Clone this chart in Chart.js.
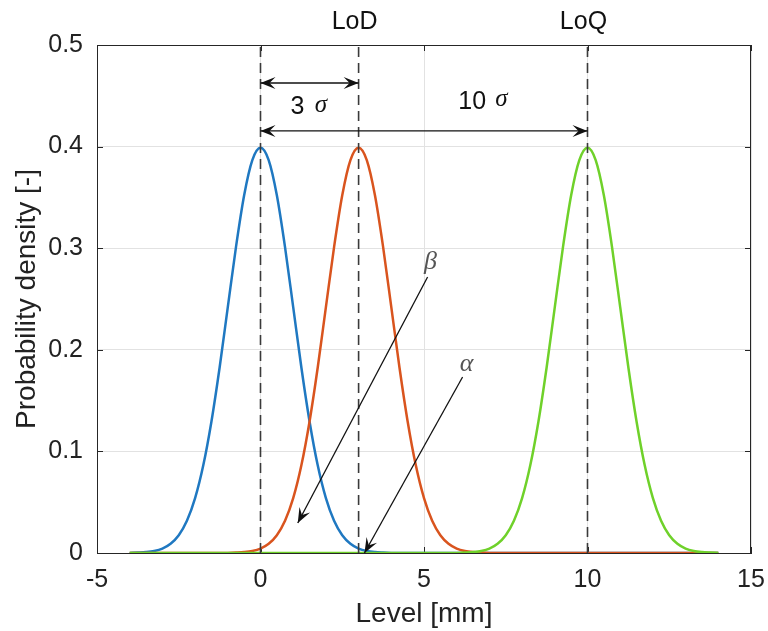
<!DOCTYPE html>
<html>
<head>
<meta charset="utf-8">
<script src="https://cdn.jsdelivr.net/npm/chart.js@4"></script>
<style>
  body { margin: 0; background: #fff; }
  #wrap { width: 768px; height: 631px; position: relative; }
</style>
</head>
<body>
<div id="wrap"><canvas id="chart"></canvas></div>
<script>
// level grid shared by the three curves (mm)
const levels = [
  -4, -3.75, -3.5, -3.25, -3, -2.75, -2.5, -2.25, -2, -1.75,
  -1.5, -1.25, -1, -0.75, -0.5, -0.25, 0, 0.25, 0.5, 0.75,
  1, 1.25, 1.5, 1.75, 2, 2.25, 2.5, 2.75, 3, 3.25,
  3.5, 3.75, 4, 4.25, 4.5, 4.75, 5, 5.25, 5.5, 5.75,
  6, 6.25, 6.5, 6.75, 7, 7.25, 7.5, 7.75, 8, 8.25,
  8.5, 8.75, 9, 9.25, 9.5, 9.75, 10, 10.25, 10.5, 10.75,
  11, 11.25, 11.5, 11.75, 12, 12.25, 12.5, 12.75, 13, 13.25,
  13.5, 13.75, 14
];

// blank (centred on 0)
const blankDensity = [
  0.0001, 0.0004, 0.0009, 0.0020, 0.0044, 0.0091, 0.0175, 0.0317, 0.0540, 0.0863,
  0.1295, 0.1826, 0.2420, 0.3011, 0.3521, 0.3867, 0.3989, 0.3867, 0.3521, 0.3011,
  0.2420, 0.1826, 0.1295, 0.0863, 0.0540, 0.0317, 0.0175, 0.0091, 0.0044, 0.0020,
  0.0009, 0.0004, 0.0001, 0, 0, 0, 0, 0, 0, 0,
  0, 0, 0, 0, 0, 0, 0, 0, 0, 0,
  0, 0, 0, 0, 0, 0, 0, 0, 0, 0,
  0, 0, 0, 0, 0, 0, 0, 0, 0, 0,
  0, 0, 0
];

// LoD (centred on 3)
const lodDensity = [
  0, 0, 0, 0, 0, 0, 0, 0, 0, 0,
  0, 0, 0.0001, 0.0004, 0.0009, 0.0020, 0.0044, 0.0091, 0.0175, 0.0317,
  0.0540, 0.0863, 0.1295, 0.1826, 0.2420, 0.3011, 0.3521, 0.3867, 0.3989, 0.3867,
  0.3521, 0.3011, 0.2420, 0.1826, 0.1295, 0.0863, 0.0540, 0.0317, 0.0175, 0.0091,
  0.0044, 0.0020, 0.0009, 0.0004, 0.0001, 0, 0, 0, 0, 0,
  0, 0, 0, 0, 0, 0, 0, 0, 0, 0,
  0, 0, 0, 0, 0, 0, 0, 0, 0, 0,
  0, 0, 0
];

// LoQ (centred on 10)
const loqDensity = [
  0, 0, 0, 0, 0, 0, 0, 0, 0, 0,
  0, 0, 0, 0, 0, 0, 0, 0, 0, 0,
  0, 0, 0, 0, 0, 0, 0, 0, 0, 0,
  0, 0, 0, 0, 0, 0, 0, 0, 0, 0,
  0.0001, 0.0004, 0.0009, 0.0020, 0.0044, 0.0091, 0.0175, 0.0317, 0.0540, 0.0863,
  0.1295, 0.1826, 0.2420, 0.3011, 0.3521, 0.3867, 0.3989, 0.3867, 0.3521, 0.3011,
  0.2420, 0.1826, 0.1295, 0.0863, 0.0540, 0.0317, 0.0175, 0.0091, 0.0044, 0.0020,
  0.0009, 0.0004, 0.0001
];

// dashed reference levels
const markerLevels = [0, 3, 10];
const xTicks = [-5, 0, 5, 10, 15];
const yTicks = [0, 0.1, 0.2, 0.3, 0.4, 0.5];

const AXIS = '#262626';
const toPoints = arr => levels.map((x, i) => ({ x: x, y: arr[i] }));

const datasets = [];
markerLevels.forEach(m => {
  datasets.push({
    data: [{ x: m, y: 0 }, { x: m, y: 0.5 }],
    borderColor: '#3a3a3a',
    borderWidth: 1.6,
    borderDash: [10, 6],
    pointRadius: 0,
    order: 0
  });
});
datasets.push({ data: toPoints(loqDensity), borderColor: '#6fd12a', borderWidth: 2.5, pointRadius: 0, cubicInterpolationMode: 'monotone', order: 1 });
datasets.push({ data: toPoints(lodDensity), borderColor: '#d9541e', borderWidth: 2.5, pointRadius: 0, cubicInterpolationMode: 'monotone', order: 2 });
datasets.push({ data: toPoints(blankDensity), borderColor: '#1f78c1', borderWidth: 2.5, pointRadius: 0, cubicInterpolationMode: 'monotone', order: 3 });

function arrowHead(ctx, x1, y1, x2, y2) {
  const a = Math.atan2(y2 - y1, x2 - x1);
  const L = 15, W = 6;
  const c = Math.cos(a), s = Math.sin(a);
  ctx.beginPath();
  ctx.moveTo(x2, y2);
  ctx.lineTo(x2 - L * c - W * s, y2 - L * s + W * c);
  ctx.lineTo(x2 - 0.6 * L * c, y2 - 0.6 * L * s);
  ctx.lineTo(x2 - L * c + W * s, y2 - L * s - W * c);
  ctx.closePath();
  ctx.fill();
}

function arrow(ctx, x1, y1, x2, y2, both) {
  ctx.beginPath();
  ctx.moveTo(x1, y1);
  ctx.lineTo(x2, y2);
  ctx.stroke();
  arrowHead(ctx, x1, y1, x2, y2);
  if (both) arrowHead(ctx, x2, y2, x1, y1);
}

// axes box with inward ticks (drawn under the curves)
const boxPlugin = {
  id: 'box',
  beforeDatasetsDraw(chart) {
    const { ctx, chartArea: a, scales: { x, y } } = chart;
    ctx.save();
    ctx.strokeStyle = AXIS;
    ctx.lineWidth = 1;
    ctx.strokeRect(a.left + 0.5, a.top + 0.5, a.right - a.left - 1, a.bottom - a.top);
    ctx.beginPath();
    xTicks.forEach(v => {
      const px = Math.round(x.getPixelForValue(v)) + 0.5;
      ctx.moveTo(px, a.bottom); ctx.lineTo(px, a.bottom - 6);
      ctx.moveTo(px, a.top); ctx.lineTo(px, a.top + 6);
    });
    yTicks.forEach(v => {
      const py = Math.round(y.getPixelForValue(v)) + 0.5;
      ctx.moveTo(a.left, py); ctx.lineTo(a.left + 6, py);
      ctx.moveTo(a.right, py); ctx.lineTo(a.right - 6, py);
    });
    ctx.stroke();
    ctx.restore();
  }
};

// arrows and labels
const notePlugin = {
  id: 'notes',
  afterDatasetsDraw(chart) {
    const { ctx, chartArea: a, scales: { x, y } } = chart;
    const X = v => x.getPixelForValue(v), Y = v => y.getPixelForValue(v);
    ctx.save();
    ctx.strokeStyle = '#111';
    ctx.fillStyle = '#111';
    ctx.lineWidth = 1.3;
    arrow(ctx, X(0), Y(0.4626), X(3), Y(0.4626), true);
    arrow(ctx, X(0), Y(0.4154), X(10), Y(0.4154), true);
    arrow(ctx, X(5.11), Y(0.2717), X(1.14), Y(0.0295), false);
    arrow(ctx, X(6.18), Y(0.1732), X(3.18), Y(0.0), false);

    ctx.textBaseline = 'middle';
    ctx.fillStyle = '#111';
    ctx.font = '25px "Liberation Sans", Arial, sans-serif';
    ctx.textAlign = 'center';
    ctx.fillText('LoD', X(3) - 4, a.top - 23);
    ctx.fillText('LoQ', X(10) - 4, a.top - 23);

    ctx.textAlign = 'left';
    ctx.fillText('3', X(0.92), Y(0.439));
    ctx.fillText('10', X(6.05), Y(0.4439));
    ctx.font = 'italic 25px "Liberation Serif", "DejaVu Serif", serif';
    ctx.fillText('\u03c3', X(1.66), Y(0.441));
    ctx.fillText('\u03c3', X(7.18), Y(0.446));

    ctx.fillStyle = '#555';
    ctx.font = 'italic 26px "Liberation Serif", "DejaVu Serif", serif';
    ctx.textAlign = 'center';
    ctx.fillText('\u03b2', X(5.2), Y(0.2864));
    ctx.fillText('\u03b1', X(6.3), Y(0.186));
    ctx.restore();
  }
};

new Chart(document.getElementById('chart'), {
  type: 'line',
  data: { datasets: datasets },
  options: {
    responsive: true,
    maintainAspectRatio: false,
    animation: false,
    layout: { padding: { top: 45, right: 17, left: 0, bottom: 0 } },
    plugins: { legend: { display: false }, tooltip: { enabled: false } },
    scales: {
      x: {
        type: 'linear',
        min: -5,
        max: 15,
        afterFit: s => { s.height = 78; s.paddingLeft = 0; s.paddingRight = 0; },
        afterBuildTicks: s => { s.ticks = xTicks.map(v => ({ value: v })); },
        grid: { color: '#e2e2e2', drawTicks: false },
        border: { color: AXIS },
        ticks: { padding: 12, color: '#222', font: { size: 25, family: '"Liberation Sans", Arial, sans-serif' } },
        title: { display: true, text: 'Level [mm]', color: '#222', padding: { top: 0, bottom: 0 }, font: { size: 28, family: '"Liberation Sans", Arial, sans-serif' } }
      },
      y: {
        min: 0,
        max: 0.5,
        afterFit: s => { s.width = 97; s.paddingTop = 0; s.paddingBottom = 0; },
        afterBuildTicks: s => { s.ticks = yTicks.map(v => ({ value: v })); },
        grid: { color: '#e2e2e2', drawTicks: false },
        border: { color: AXIS },
        ticks: {
          padding: 14,
          color: '#222',
          font: { size: 25, family: '"Liberation Sans", Arial, sans-serif' },
          callback: v => String(+v.toFixed(2))
        },
        title: { display: true, text: 'Probability density [-]', color: '#222', padding: { top: 10, bottom: 0 }, font: { size: 28, family: '"Liberation Sans", Arial, sans-serif' } }
      }
    }
  },
  plugins: [boxPlugin, notePlugin]
});
</script>
</body>
</html>
